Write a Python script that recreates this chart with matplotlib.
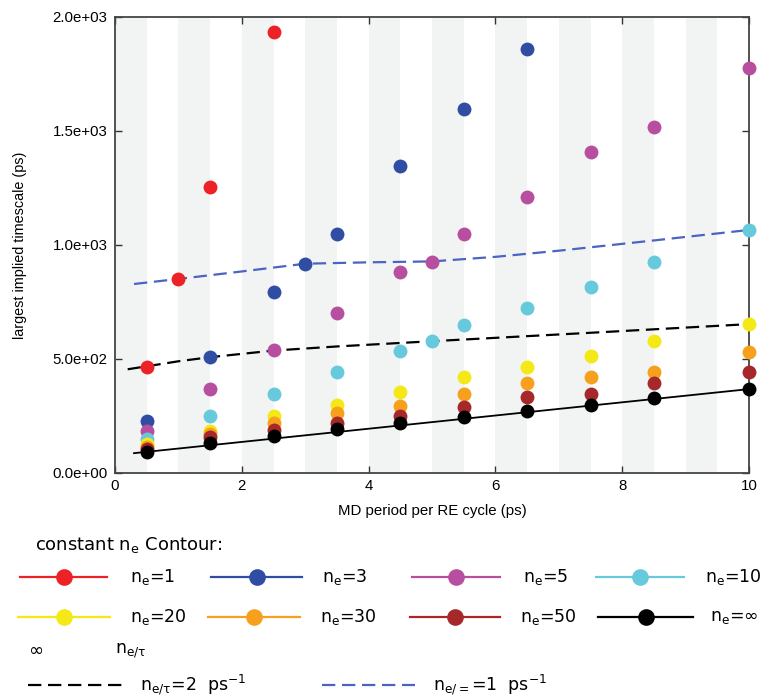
import matplotlib
matplotlib.use("Agg")
import matplotlib.pyplot as plt
from matplotlib.lines import Line2D

# values (ps)
x_main = [0.5, 1.5, 2.5, 3.5, 4.5, 5.5, 6.5, 7.5, 8.5, 10]

x_ne1 = [0.5, 1.0, 1.5, 2.5]
y_ne1 = [467, 850, 1254, 1934]
x_ne3 = [0.5, 1.5, 2.5, 3.0, 3.5, 4.5, 5.5, 6.5]
y_ne3 = [229, 510, 796, 918, 1048, 1347, 1596, 1860]
x_ne5 = [0.5, 1.5, 2.5, 3.5, 4.5, 5.0, 5.5, 6.5, 7.5, 8.5, 10]
y_ne5 = [184, 367, 539, 700, 881, 925, 1050, 1210, 1408, 1517, 1776]
x_ne10 = [0.5, 1.5, 2.5, 3.5, 4.5, 5.0, 5.5, 6.5, 7.5, 8.5, 10]
y_ne10 = [148, 250, 346, 443, 537, 579, 648, 725, 815, 924, 1066]
y_ne20 = [127, 186, 250, 298, 357, 421, 464, 513, 578, 653]
y_ne30 = [115, 171, 218, 262, 295, 348, 396, 420, 444, 532]
y_ne50 = [105, 157, 189, 221, 251, 291, 335, 346, 393, 443]
y_neinf = [93, 133, 162, 192, 218, 247, 271, 300, 328, 367]

# curves
x_inf_line = [0.3, 10]
y_inf_line = [87, 368]
x_rate2 = [0.2, 0.5, 1.0, 1.5, 2.5, 3.5, 5.0, 7.5, 10]
y_rate2 = [455, 468, 490, 508, 537, 555, 578, 615, 653]
x_rate1 = [0.3, 1.0, 2.0, 3.0, 4.0, 5.0, 6.0, 7.0, 8.5, 10]
y_rate1 = [829, 851, 884, 918, 924, 928, 948, 975, 1020, 1066]

labels = ["n$_\\mathrm{e}$=1", "n$_\\mathrm{e}$=3", "n$_\\mathrm{e}$=5", "n$_\\mathrm{e}$=10",
          "n$_\\mathrm{e}$=20", "n$_\\mathrm{e}$=30", "n$_\\mathrm{e}$=50", "n$_\\mathrm{e}$=\u221e"]
colors = ["#ec2226", "#2f4ea3", "#b84e9f", "#66c9dc",
          "#f4e816", "#f6a01e", "#a6282a", "black"]
series = [(x_ne1, y_ne1), (x_ne3, y_ne3), (x_ne5, y_ne5), (x_ne10, y_ne10),
          (x_main, y_ne20), (x_main, y_ne30), (x_main, y_ne50), (x_main, y_neinf)]

W, H = 768, 698
fig = plt.figure(figsize=(W / 100, H / 100), dpi=100)
ax = fig.add_axes([115 / W, 1 - 473 / H, (749 - 115) / W, (473 - 17) / H])

for k in range(10):
    ax.axvspan(k, k + 0.5, color="#f2f4f3", lw=0, zorder=0)

ax.plot(x_inf_line, y_inf_line, color="black", lw=1.3, zorder=2)
ax.plot(x_rate2, y_rate2, color="black", lw=1.6, ls=(0, (6, 3)), zorder=2)
ax.plot(x_rate1, y_rate1, color="#4b63c2", lw=1.6, ls=(0, (6, 3)), zorder=2)

for (xs, ys), c in zip(series, colors):
    ax.plot(xs, ys, "o", color=c, ms=10, mec="none", clip_on=False, zorder=3)

ax.set_xlim(0, 10)
ax.set_ylim(0, 2000)
ax.set_xticks([0, 2, 4, 6, 8, 10])
ax.set_yticks([0, 500, 1000, 1500, 2000])
ax.set_yticklabels(["%.1e" % v for v in [0, 500, 1000, 1500, 2000]])
ax.tick_params(direction="in", top=True, right=True, length=5, width=1,
               labelsize=10.8, colors="#333333", labelcolor="black")
ax.tick_params(axis="x", pad=4.5)
ax.tick_params(axis="y", pad=5.5)
for s in ax.spines.values():
    s.set_color("#444444")
    s.set_linewidth(1.3)
for lab in ax.get_xticklabels() + ax.get_yticklabels():
    lab.set_family("Liberation Sans")
ax.set_xlabel("MD period per RE cycle (ps)", fontsize=10.8, family="Liberation Sans", va="center")
ax.xaxis.set_label_coords(0.5, (473 - 510.5) / 456)
ax.set_ylabel("largest implied timescale (ps)", fontsize=10.4, family="Liberation Sans", va="center")
ax.yaxis.set_label_coords((20 - 115) / 634, 0.5)


def fx(px):
    return px / W


def fy(py):
    return 1 - py / H


# hand built legend below the axes
fig.text(fx(35), fy(545), "constant n$_\\mathrm{e}$ Contour:", fontsize=13, va="center")
row_y = [577, 577, 577, 577, 617, 617, 617, 617]
line_x = [(20, 107), (211, 302), (412, 500), (596, 684),
          (18, 110), (208, 300), (410, 500), (598, 693)]
text_x = [130, 322, 523, 705, 130, 320, 520, 710]
for lab, c, y, (x0, x1), tx in zip(labels, colors, row_y, line_x, text_x):
    fig.add_artist(Line2D([fx(x0), fx(x1)], [fy(y), fy(y)], transform=fig.transFigure,
                          color=c, lw=1.6))
    fig.add_artist(Line2D([fx((x0 + x1) / 2)], [fy(y)], transform=fig.transFigure,
                          marker="o", ms=12, color=c, mec="none"))
    fig.text(fx(tx), fy(y), lab, fontsize=12.5, va="center")

fig.text(fx(28), fy(651), "\u221e", fontsize=13, va="center")
fig.text(fx(115), fy(651), "n$_\\mathrm{e/\u03c4}$", fontsize=12.5, va="center")

fig.add_artist(Line2D([fx(28), fx(125)], [fy(685), fy(685)], transform=fig.transFigure,
                      color="black", lw=1.6, ls=(0, (6, 3))))
fig.text(fx(140), fy(685), "n$_\\mathrm{e/\u03c4}$=2  ps$^{-1}$", fontsize=12.5, va="center")
fig.add_artist(Line2D([fx(322), fx(415)], [fy(685), fy(685)], transform=fig.transFigure,
                      color="#4b63c2", lw=1.6, ls=(0, (6, 3))))
fig.text(fx(433), fy(685), "n$_\\mathrm{e/=}$=1  ps$^{-1}$", fontsize=12.5, va="center")

fig.savefig("out.png", dpi=100)
